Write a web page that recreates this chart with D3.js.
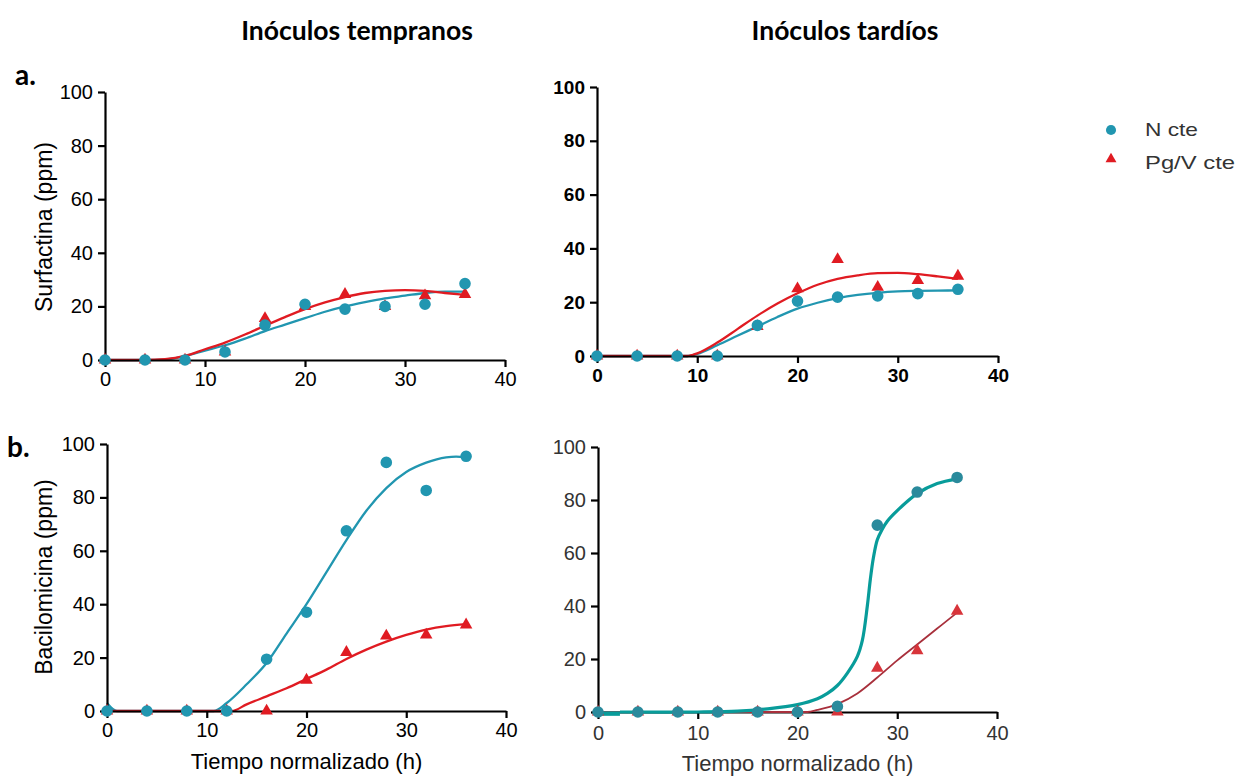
<!DOCTYPE html>
<html>
<head>
<meta charset="utf-8">
<script src="https://cdn.jsdelivr.net/npm/d3@7/dist/d3.min.js"></script>
<style>
  body { margin: 0; background: #fff; }
  svg { display: block; }
  .tick line, .domain { stroke: #000; }
</style>
</head>
<body>
<svg id="chart" width="1237" height="777"></svg>
<script>
// sampling times (h)
const timeH = [0, 4, 8, 12, 16, 20, 24, 28, 32, 36];

// Surfactina - inóculos tempranos
const surfTempN = [0, 0, 0, 3, 13, 20.8, 19, 20, 20.8, 28.5];
const surfTempPg = [0, 0, 0, 3, 15.5, 20, 24.5, 20, 24, 24.5];
const surfTempFitT = [0, 4, 6, 8, 10, 12, 14, 16, 18, 20, 22, 24, 26, 28, 30, 32, 34, 36];
const surfTempNFit = [0, 0, 0.2, 1.5, 3.5, 5.5, 8, 10.8, 13.2, 15.6, 18, 20, 21.6, 23, 24, 25, 25.5, 25.5];
const surfTempPgFit = [0, 0, 0.3, 1.5, 4, 6.5, 9.5, 12.8, 16, 19, 21.5, 23.5, 25, 25.8, 26.1, 25.8, 25, 24.3];

// Surfactina - inóculos tardíos
const surfTardN = [0, 0, 0, 0, 11.4, 20.4, 21.9, 22.3, 23.2, 24.8];
const surfTardPg = [0, 0, 0, 0, 11, 25, 35.9, 25.6, 28.1, 29.7];
const surfTardFitT = [0, 8, 9, 10, 12, 14, 16, 18, 20, 22, 24, 26, 28, 30, 32, 34, 36];
const surfTardNFit = [0, 0, 0, 0.8, 4, 7.5, 11, 14.5, 17.6, 19.8, 21.5, 22.7, 23.5, 24, 24.2, 24.3, 24.4];
const surfTardPgFit = [0, 0, 0, 1, 5, 10, 15, 19.5, 23.3, 26.5, 28.7, 30, 30.8, 30.9, 30.4, 29.6, 28.7];

// Bacilomicina - inóculos tempranos
const bacTempN = [0, 0, 0, 0, 19.4, 37, 67.5, 93.1, 82.6, 95.4];
const bacTempPg = [0, 0, 0, 0, 0, 11.6, 22, 28.1, 28.5, 32.3];
const bacTempNFitT = [0, 1, 10.7, 12, 14, 16, 18, 20, 22, 24, 26, 28, 30, 32, 34, 35, 36];
const bacTempNFit = [3, 0, 0, 3, 10, 18, 29, 40, 52, 64, 75, 83.5, 89.5, 93, 95, 95.3, 95];
const bacTempPgFitT = [0, 12.5, 14, 16, 18, 20, 22, 24, 26, 28, 30, 32, 34, 36];
const bacTempPgFit = [0, 0, 2.5, 5.5, 8.5, 12, 15.5, 19.5, 23, 26, 28.5, 30.5, 31.8, 32.5];

// Bacilomicina - inóculos tardíos
const bacTardN = [0, 0, 0, 0, 0, 0, 2.1, 70.5, 83, 88.5];
const bacTardPg = [0, 0, 0, 0, 0, 0, 0, 16.6, 23.2, 38.1];
const bacTardDashT = [0, 2.2];
const bacTardDash = [-0.6, -0.6];
const bacTardNFitT = [2.2, 10, 14, 17, 20, 22, 23, 24, 25, 26, 26.5, 27, 27.3, 27.6, 28, 28.5, 29, 30, 32, 34, 36];
const bacTardNFit = [0, 0, 0.3, 1.2, 2.8, 5, 7, 10, 14.7, 21, 27, 40, 50, 58, 65, 69, 72, 76, 82.4, 86.2, 88];
const bacTardPgFitT = [0, 21, 22, 24, 26, 28, 30, 32, 34, 36];
const bacTardPgFit = [0, 0, 0.8, 3, 7, 13, 19.5, 25.5, 31.5, 37.5];

const xTicks = [0, 10, 20, 30, 40];
const yTicks = [0, 20, 40, 60, 80, 100];

const TEAL = "#2196b0";
const RED = "#e01b22";
const FONT = "'Liberation Sans', Arial, sans-serif";
const TITLE_FONT = "Lato, 'Open Sans', sans-serif";

const svg = d3.select("#chart");

function zip(ts, vs) {
    return ts.map((t, i) => [t, vs[i]]);
}

function drawPanel(p) {
    const x = d3.scaleLinear().domain([0, 40]).range([p.left, p.right]);
    const y = d3.scaleLinear().domain([0, 100]).range([p.bottom, p.top]);
    const g = svg.append("g");

    const drawFits = () => {
        p.fits.forEach(f => {
            const line = d3.line().x(d => x(d[0])).y(d => y(d[1]))
                .curve(f.curve || d3.curveMonotoneX);
            g.append("path")
                .attr("d", line(zip(f.t, f.v)))
                .attr("fill", "none")
                .attr("stroke", f.color)
                .attr("stroke-width", f.width || 2.3);
        });
    };

    if (!p.linesOnTop) drawFits();

    const xAxis = g.append("g")
        .attr("transform", `translate(0,${p.bottom})`)
        .call(d3.axisBottom(x).tickValues(xTicks).tickSize(7).tickSizeOuter(0).tickPadding(p.xPad));
    const yAxis = g.append("g")
        .attr("transform", `translate(${p.left},0)`)
        .call(d3.axisLeft(y).tickValues(yTicks).tickSize(7).tickSizeOuter(0).tickPadding(5));

    [xAxis, yAxis].forEach(a => {
        a.selectAll(".domain, .tick line").attr("stroke", p.axisColor).attr("stroke-width", 2.2);
        a.selectAll("text")
            .attr("fill", p.axisColor)
            .style("font-family", FONT)
            .style("font-weight", p.bold ? "bold" : "normal");
    });
    xAxis.selectAll("text").style("font-size", p.xFont + "px");
    yAxis.selectAll("text").style("font-size", p.yFont + "px");

    if (p.linesOnTop) drawFits();

    // markers
    const circle = d3.symbol(d3.symbolCircle, 106);
    const tri = d3.symbol(d3.symbolTriangle, 68);
    g.selectAll(null).data(zip(timeH, p.pg)).join("path")
        .attr("d", tri)
        .attr("transform", d => `translate(${x(d[0])},${y(d[1])})`)
        .attr("fill", p.redMarker || RED);
    g.selectAll(null).data(zip(timeH, p.n)).join("path")
        .attr("d", circle)
        .attr("transform", d => `translate(${x(d[0])},${y(d[1])})`)
        .attr("fill", p.tealMarker || TEAL);

    if (p.yTitle) {
        svg.append("text")
            .attr("transform", `translate(${p.yTitleX},${p.yTitleY}) rotate(-90)`)
            .attr("text-anchor", "middle")
            .attr("dominant-baseline", "central")
            .style("font-family", FONT)
            .style("font-size", "23px")
            .attr("fill", p.axisColor)
            .text(p.yTitle);
    }
    if (p.xTitle) {
        svg.append("text")
            .attr("x", (p.left + p.right) / 2)
            .attr("y", p.xTitleY)
            .attr("text-anchor", "middle")
            .style("font-family", FONT)
            .style("font-size", "22px")
            .attr("fill", p.axisColor)
            .text(p.xTitle);
    }
}

// a. Surfactina, tempranos
drawPanel({
    left: 105, right: 505, top: 92, bottom: 360,
    n: surfTempN, pg: surfTempPg,
    fits: [
        { t: surfTempFitT, v: surfTempNFit, color: TEAL },
        { t: surfTempFitT, v: surfTempPgFit, color: RED }
    ],
    axisColor: "#000", bold: false, xFont: 20, yFont: 20, xPad: 5,
    yTitle: "Surfactina (ppm)", yTitleX: 44, yTitleY: 227
});

// a. Surfactina, tardíos
drawPanel({
    left: 597, right: 998, top: 87, bottom: 356,
    n: surfTardN, pg: surfTardPg,
    fits: [
        { t: surfTardFitT, v: surfTardNFit, color: TEAL },
        { t: surfTardFitT, v: surfTardPgFit, color: RED }
    ],
    axisColor: "#000", bold: true, xFont: 19, yFont: 19, xPad: 6
});

// b. Bacilomicina, tempranos
drawPanel({
    left: 107, right: 506, top: 444, bottom: 711,
    n: bacTempN, pg: bacTempPg,
    fits: [
        { t: bacTempNFitT, v: bacTempNFit, color: TEAL },
        { t: bacTempPgFitT, v: bacTempPgFit, color: RED }
    ],
    axisColor: "#000", bold: false, xFont: 20, yFont: 20, xPad: 5,
    yTitle: "Bacilomicina (ppm)", yTitleX: 44, yTitleY: 577,
    xTitle: "Tiempo normalizado (h)", xTitleY: 769
});

// b. Bacilomicina, tardíos
drawPanel({
    left: 598, right: 997, top: 447, bottom: 712,
    n: bacTardN, pg: bacTardPg,
    fits: [
        { t: bacTardPgFitT, v: bacTardPgFit, color: "#a8303c", width: 1.8 },
        { t: bacTardNFitT, v: bacTardNFit, color: "#089c9a", width: 3.2, curve: d3.curveCatmullRom.alpha(0.5) },
        { t: bacTardDashT, v: bacTardDash, color: "#089c9a", width: 4.5 }
    ],
    linesOnTop: true, tealMarker: "#2a8a9c", redMarker: "#d8343a",
    axisColor: "#333", bold: false, xFont: 20, yFont: 20, xPad: 7,
    xTitle: "Tiempo normalizado (h)", xTitleY: 771
});

// column titles and panel letters
svg.append("text").attr("x", 357).attr("y", 40).attr("text-anchor", "middle")
    .style("font-family", TITLE_FONT).style("font-weight", "bold").style("font-size", "26.5px")
    .text("Inóculos tempranos");
svg.append("text").attr("x", 845).attr("y", 40).attr("text-anchor", "middle")
    .style("font-family", TITLE_FONT).style("font-weight", "bold").style("font-size", "26.5px")
    .text("Inóculos tardíos");
svg.append("text").attr("x", 15).attr("y", 85)
    .style("font-family", TITLE_FONT).style("font-weight", "bold").style("font-size", "28px")
    .text("a.");
svg.append("text").attr("x", 7).attr("y", 457)
    .style("font-family", TITLE_FONT).style("font-weight", "bold").style("font-size", "28px")
    .text("b.");

// legend
const legendItems = [
    { label: "N cte", shape: d3.symbolCircle, size: 80, color: TEAL, y: 130, textY: 136, width: 53 },
    { label: "Pg/V cte", shape: d3.symbolTriangle, size: 52, color: RED, y: 159, textY: 169, width: 90 }
];
const legend = svg.append("g");
legendItems.forEach(item => {
    legend.append("path")
        .attr("d", d3.symbol(item.shape, item.size))
        .attr("transform", `translate(1111,${item.y})`)
        .attr("fill", item.color);
    legend.append("text")
        .attr("x", 1145).attr("y", item.textY)
        .attr("textLength", item.width).attr("lengthAdjust", "spacingAndGlyphs")
        .style("font-family", FONT).style("font-size", "19px")
        .attr("fill", "#333")
        .text(item.label);
});
</script>
</body>
</html>
